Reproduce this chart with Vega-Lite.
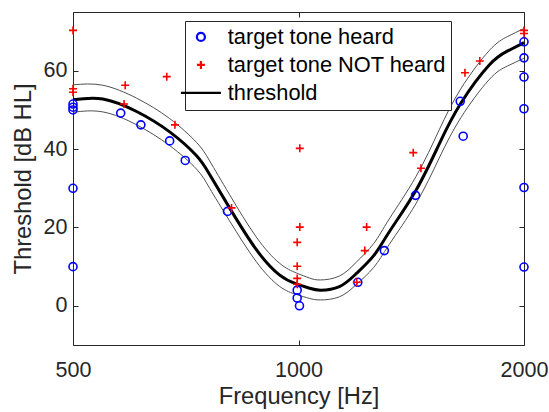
{
  "$schema": "https://vega.github.io/schema/vega-lite/v6.json",
  "width": 451,
  "height": 333,
  "autosize": {"type": "none"},
  "padding": {"left": 73, "top": 12, "right": 25, "bottom": 67},
  "background": "white",
  "config": {
    "font": "Liberation Sans",
    "view": {"stroke": "#262626", "strokeWidth": 1},
    "axis": {
      "grid": false,
      "domain": false,
      "labelFlush": false,
      "tickColor": "#262626",
      "tickSize": -5,
      "tickWidth": 1,
      "labelFont": "Liberation Sans",
      "labelFontSize": 21.5,
      "labelColor": "#262626",
      "titleFont": "Liberation Sans",
      "titleFontSize": 23.7,
      "titleFontWeight": "normal",
      "titleColor": "#262626"
    },
    "legend": {
      "labelFont": "Liberation Sans",
      "labelFontSize": 21.8,
      "labelColor": "#000000",
      "labelLimit": 0
    }
  },
  "datasets": {
    "points": [
      {"freq": 500, "level": 51.5, "series": "target tone heard"},
      {"freq": 500, "level": 50.7, "series": "target tone heard"},
      {"freq": 500, "level": 50, "series": "target tone heard"},
      {"freq": 500, "level": 30, "series": "target tone heard"},
      {"freq": 500, "level": 10, "series": "target tone heard"},
      {"freq": 579, "level": 49.2, "series": "target tone heard"},
      {"freq": 616, "level": 46.2, "series": "target tone heard"},
      {"freq": 673, "level": 42.1, "series": "target tone heard"},
      {"freq": 706, "level": 37.1, "series": "target tone heard"},
      {"freq": 804, "level": 24.1, "series": "target tone heard"},
      {"freq": 996, "level": 4, "series": "target tone heard"},
      {"freq": 996, "level": 2, "series": "target tone heard"},
      {"freq": 1003, "level": 0, "series": "target tone heard"},
      {"freq": 1200, "level": 6, "series": "target tone heard"},
      {"freq": 1302, "level": 14.1, "series": "target tone heard"},
      {"freq": 1433, "level": 28.2, "series": "target tone heard"},
      {"freq": 1644, "level": 52.2, "series": "target tone heard"},
      {"freq": 1659, "level": 43.3, "series": "target tone heard"},
      {"freq": 2000, "level": 67.4, "series": "target tone heard"},
      {"freq": 2000, "level": 63.3, "series": "target tone heard"},
      {"freq": 2000, "level": 58.4, "series": "target tone heard"},
      {"freq": 2000, "level": 50.3, "series": "target tone heard"},
      {"freq": 2000, "level": 30.2, "series": "target tone heard"},
      {"freq": 2000, "level": 9.9, "series": "target tone heard"},
      {"freq": 500, "level": 70.3, "series": "target tone NOT heard"},
      {"freq": 500, "level": 55.4, "series": "target tone NOT heard"},
      {"freq": 500, "level": 54.5, "series": "target tone NOT heard"},
      {"freq": 587, "level": 56.3, "series": "target tone NOT heard"},
      {"freq": 585, "level": 51.5, "series": "target tone NOT heard"},
      {"freq": 667, "level": 58.5, "series": "target tone NOT heard"},
      {"freq": 684, "level": 46.2, "series": "target tone NOT heard"},
      {"freq": 814, "level": 25.0, "series": "target tone NOT heard"},
      {"freq": 1004, "level": 40.2, "series": "target tone NOT heard"},
      {"freq": 1004, "level": 20.1, "series": "target tone NOT heard"},
      {"freq": 996, "level": 16.2, "series": "target tone NOT heard"},
      {"freq": 996, "level": 10.1, "series": "target tone NOT heard"},
      {"freq": 996, "level": 7, "series": "target tone NOT heard"},
      {"freq": 996, "level": 5.5, "series": "target tone NOT heard"},
      {"freq": 1196, "level": 6, "series": "target tone NOT heard"},
      {"freq": 1226, "level": 14.1, "series": "target tone NOT heard"},
      {"freq": 1233, "level": 20.1, "series": "target tone NOT heard"},
      {"freq": 1423, "level": 39.1, "series": "target tone NOT heard"},
      {"freq": 1457, "level": 35.1, "series": "target tone NOT heard"},
      {"freq": 1668, "level": 59.5, "series": "target tone NOT heard"},
      {"freq": 1746, "level": 62.5, "series": "target tone NOT heard"},
      {"freq": 2000, "level": 70.3, "series": "target tone NOT heard"},
      {"freq": 2000, "level": 69.5, "series": "target tone NOT heard"}
    ],
    "curves": [
      {"freq": 500, "level": 52.6, "band": "threshold"},
      {"freq": 548, "level": 52.8, "band": "threshold"},
      {"freq": 608, "level": 49.6, "band": "threshold"},
      {"freq": 673, "level": 44.4, "band": "threshold"},
      {"freq": 731, "level": 38.3, "band": "threshold"},
      {"freq": 761, "level": 33.5, "band": "threshold"},
      {"freq": 809, "level": 25.0, "band": "threshold"},
      {"freq": 878, "level": 14.4, "band": "threshold"},
      {"freq": 943, "level": 7.9, "band": "threshold"},
      {"freq": 993, "level": 5.6, "band": "threshold"},
      {"freq": 1034, "level": 4.5, "band": "threshold"},
      {"freq": 1070, "level": 4.0, "band": "threshold"},
      {"freq": 1134, "level": 4.9, "band": "threshold"},
      {"freq": 1194, "level": 8.2, "band": "threshold"},
      {"freq": 1260, "level": 12.8, "band": "threshold"},
      {"freq": 1322, "level": 18.9, "band": "threshold"},
      {"freq": 1435, "level": 29.5, "band": "threshold"},
      {"freq": 1541, "level": 41.3, "band": "threshold"},
      {"freq": 1647, "level": 51.7, "band": "threshold"},
      {"freq": 1796, "level": 61.4, "band": "threshold"},
      {"freq": 1900, "level": 65.0, "band": "threshold"},
      {"freq": 2000, "level": 67.2, "band": "threshold"},
      {"freq": 500, "level": 56.4, "band": "upper"},
      {"freq": 548, "level": 56.3, "band": "upper"},
      {"freq": 608, "level": 53.0, "band": "upper"},
      {"freq": 673, "level": 47.8, "band": "upper"},
      {"freq": 731, "level": 41.7, "band": "upper"},
      {"freq": 761, "level": 37.0, "band": "upper"},
      {"freq": 809, "level": 28.4, "band": "upper"},
      {"freq": 878, "level": 17.6, "band": "upper"},
      {"freq": 943, "level": 10.9, "band": "upper"},
      {"freq": 993, "level": 8.4, "band": "upper"},
      {"freq": 1034, "level": 7.1, "band": "upper"},
      {"freq": 1070, "level": 6.6, "band": "upper"},
      {"freq": 1134, "level": 7.6, "band": "upper"},
      {"freq": 1194, "level": 11.1, "band": "upper"},
      {"freq": 1260, "level": 15.9, "band": "upper"},
      {"freq": 1322, "level": 22.2, "band": "upper"},
      {"freq": 1435, "level": 33.0, "band": "upper"},
      {"freq": 1541, "level": 44.9, "band": "upper"},
      {"freq": 1647, "level": 55.4, "band": "upper"},
      {"freq": 1796, "level": 65.1, "band": "upper"},
      {"freq": 1900, "level": 68.7, "band": "upper"},
      {"freq": 2000, "level": 70.8, "band": "upper"},
      {"freq": 500, "level": 49.4, "band": "lower"},
      {"freq": 548, "level": 49.5, "band": "lower"},
      {"freq": 608, "level": 46.2, "band": "lower"},
      {"freq": 673, "level": 40.9, "band": "lower"},
      {"freq": 731, "level": 34.9, "band": "lower"},
      {"freq": 761, "level": 30.0, "band": "lower"},
      {"freq": 809, "level": 21.7, "band": "lower"},
      {"freq": 878, "level": 11.3, "band": "lower"},
      {"freq": 943, "level": 5.0, "band": "lower"},
      {"freq": 993, "level": 2.9, "band": "lower"},
      {"freq": 1034, "level": 1.9, "band": "lower"},
      {"freq": 1070, "level": 1.5, "band": "lower"},
      {"freq": 1134, "level": 2.3, "band": "lower"},
      {"freq": 1194, "level": 5.4, "band": "lower"},
      {"freq": 1260, "level": 9.8, "band": "lower"},
      {"freq": 1322, "level": 15.7, "band": "lower"},
      {"freq": 1435, "level": 26.1, "band": "lower"},
      {"freq": 1541, "level": 37.7, "band": "lower"},
      {"freq": 1647, "level": 48.0, "band": "lower"},
      {"freq": 1796, "level": 57.7, "band": "lower"},
      {"freq": 1900, "level": 61.2, "band": "lower"},
      {"freq": 2000, "level": 63.2, "band": "lower"}
    ]
  },
  "resolve": {"axis": {"x": "independent", "y": "independent"}},
  "layer": [
    {
      "data": {"name": "curves"},
      "transform": [{"filter": "datum.band !== 'threshold'"}],
      "mark": {"type": "line", "color": "#505050", "strokeWidth": 1, "interpolate": "natural"},
      "encoding": {
        "x": {"field": "freq", "type": "quantitative",
              "scale": {"type": "log", "domain": [500, 2000], "nice": false},
              "axis": {"orient": "bottom", "values": [500, 1000, 2000], "format": "d", "labelPadding": 19, "title": "Frequency [Hz]", "titlePadding": 4}},
        "y": {"field": "level", "type": "quantitative",
              "scale": {"domain": [-10, 75], "nice": false, "zero": false},
              "axis": {"orient": "left", "values": [0, 20, 40, 60], "labelPadding": 11, "title": "Threshold [dB HL]", "titlePadding": 8}},
        "detail": {"field": "band"}
      }
    },
    {
      "data": {"name": "curves"},
      "transform": [{"filter": "datum.band === 'threshold'"}],
      "mark": {"type": "line", "color": "#000000", "strokeWidth": 3, "interpolate": "natural"},
      "encoding": {
        "x": {"field": "freq", "type": "quantitative",
              "axis": {"orient": "top", "values": [500, 1000, 2000], "labels": false, "title": null}},
        "y": {"field": "level", "type": "quantitative",
              "axis": {"orient": "right", "values": [0, 20, 40, 60], "labels": false, "title": null}}
      }
    },
    {
      "data": {"name": "points"},
      "mark": {"type": "point", "filled": false, "opacity": 1, "size": 64, "strokeWidth": 1.6},
      "encoding": {
        "x": {"field": "freq", "type": "quantitative", "axis": null},
        "y": {"field": "level", "type": "quantitative", "axis": null},
        "color": {
          "field": "series", "type": "nominal",
          "scale": {"domain": ["target tone heard", "target tone NOT heard", "threshold"], "range": ["#0000FF", "#FF0000", "#000000"]},
          "legend": {
            "title": null,
            "orient": "none",
            "legendX": 112,
            "legendY": 9,
            "padding": 5,
            "rowPadding": 5,
            "strokeColor": "#262626",
            "fillColor": "white",
            "symbolSize": 64,
            "symbolStrokeWidth": 2.2,
            "labelFontSize": 21.8,
            "labelOffset": 16
          }
        },
        "shape": {
          "field": "series", "type": "nominal",
          "scale": {"domain": ["target tone heard", "target tone NOT heard", "threshold"], "range": ["circle", "M-1,0L1,0M0,-1L0,1", "M-5,0L5,0"]}
        }
      }
    }
  ]
}
